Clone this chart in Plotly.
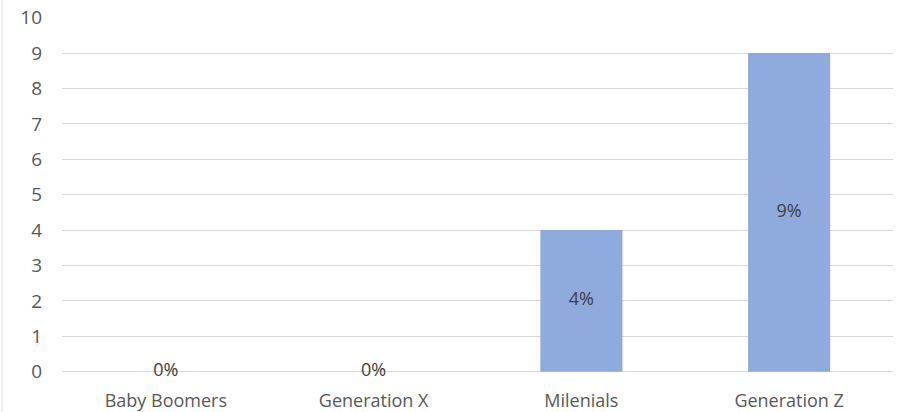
import plotly.graph_objects as go

categories = ["Baby Boomers", "Generation X", "Milenials", "Generation Z"]
values = [0, 0, 4, 9]
value_labels = ["0%", "0%", "4%", "9%"]
y_ticks = list(range(0, 11))

fig = go.Figure()
fig.add_trace(go.Bar(
    x=categories, y=values,
    marker=dict(color="#8FAADC", line=dict(width=0)),
    hoverinfo="skip",
))
fig.add_trace(go.Scatter(
    x=categories, y=[v / 2 for v in values],
    mode="text", text=value_labels,
    textposition="middle center",
    textfont=dict(family="Open Sans", size=18, color="#404040"),
    cliponaxis=False,
    hoverinfo="skip",
))

fig.update_layout(
    width=912, height=412,
    margin=dict(l=62, r=19, t=17, b=40, autoexpand=False),
    paper_bgcolor="white", plot_bgcolor="white",
    showlegend=False,
    bargap=0.605,
    font=dict(family="Open Sans", color="#595959"),
    shapes=[dict(type="line", xref="paper", yref="paper",
                 x0=-0.0722, x1=-0.0722, y0=-0.113, y1=1.048,
                 line=dict(color="#d9d9d9", width=1))],
)
fig.update_xaxes(
    showgrid=False, showline=False, zeroline=False,
    tickfont=dict(size=18, color="#595959"),
    ticks="", ticklabelstandoff=16, automargin=False,
)
fig.update_yaxes(
    range=[-0.01, 10.02], tickvals=y_ticks,
    showgrid=True, gridcolor="#d9d9d9", gridwidth=1,
    zeroline=True, zerolinecolor="#d9d9d9", zerolinewidth=1,
    showline=False, ticks="",
    tickfont=dict(size=19, color="#595959"),
    ticklabelstandoff=19, automargin=False,
)

fig.write_html(
    "out.html",
    config={"displayModeBar": False},
    post_script="document.body.style.margin='0';document.body.style.overflow='hidden';",
)
